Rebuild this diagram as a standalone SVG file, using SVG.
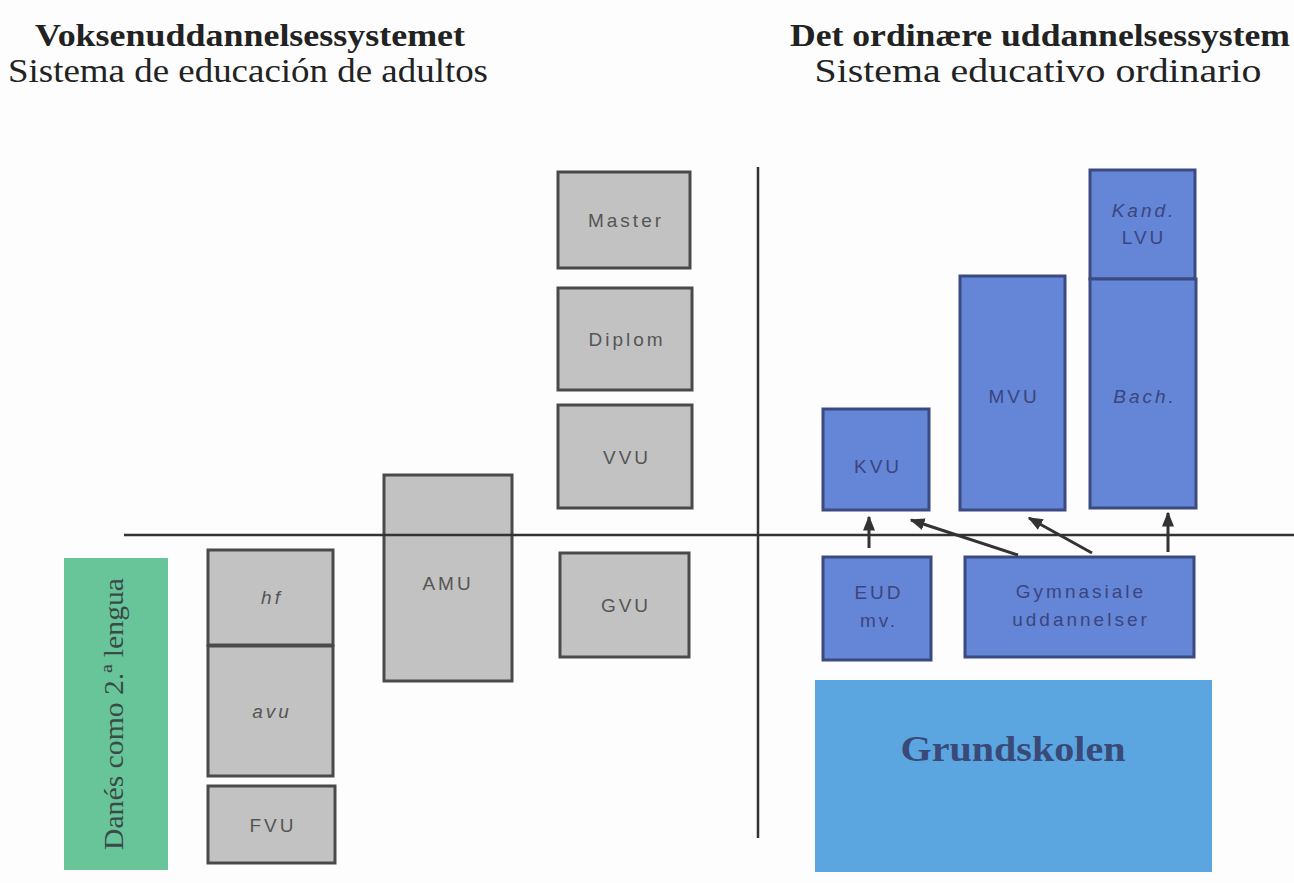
<svg xmlns="http://www.w3.org/2000/svg" width="1294" height="883" viewBox="0 0 1294 883">
<style>
.title{font-family:"Liberation Serif",serif;font-size:32px;font-weight:bold;fill:#222;text-anchor:middle}
.sub{font-family:"Liberation Serif",serif;font-size:34px;fill:#222;text-anchor:middle}
.g rect{fill:#c2c2c2;stroke:#4a4a4a;stroke-width:3}
.b rect{fill:#6585d6;stroke:#3b4a80;stroke-width:3}
.gt{font-family:"Liberation Sans",sans-serif;font-size:19px;letter-spacing:3px;fill:#555;text-anchor:middle}
.bt{font-family:"Liberation Sans",sans-serif;font-size:19px;letter-spacing:3px;fill:#3a4680;text-anchor:middle}
.it{font-style:italic}
.ln{stroke:#333;stroke-width:2.5;fill:none}
.ar{stroke:#333;stroke-width:3;fill:none;marker-end:url(#ah)}
</style>
<defs>
<marker id="ah" viewBox="0 0 10 10" refX="9" refY="5" markerWidth="5" markerHeight="5" orient="auto" markerUnits="strokeWidth">
<path d="M0,1 L10,5 L0,9 z" fill="#333"/>
</marker>
</defs>
<rect width="1294" height="883" fill="#fdfdfd"/>
<text class="title" x="250" y="46" textLength="430" lengthAdjust="spacingAndGlyphs">Voksenuddannelsessystemet</text>
<text class="sub" x="248" y="82" textLength="480" lengthAdjust="spacingAndGlyphs">Sistema de educación de adultos</text>
<text class="title" x="1040" y="46" textLength="500" lengthAdjust="spacingAndGlyphs">Det ordinære uddannelsessystem</text>
<text class="sub" x="1038" y="82" textLength="447" lengthAdjust="spacingAndGlyphs">Sistema educativo ordinario</text>

<g id="green">
<rect x="64" y="558" width="104" height="312" fill="#68c59a"/>
<text transform="translate(123,714) rotate(-90)" font-family="Liberation Serif,serif" font-size="28" fill="#3a4a48" text-anchor="middle" textLength="272" lengthAdjust="spacingAndGlyphs">Danés como 2.ª lengua</text>
</g>
<g id="hf" class="g"><rect x="208" y="550" width="125" height="95"/><text class="gt it" x="272" y="604">hf</text></g>
<g id="avu" class="g"><rect x="208" y="646" width="125" height="130"/><text class="gt it" x="272" y="718">avu</text></g>
<g id="fvu" class="g"><rect x="208" y="786" width="127" height="77"/><text class="gt" x="273" y="832">FVU</text></g>
<g id="amu" class="g"><rect x="384" y="475" width="128" height="206"/><text class="gt" x="448" y="590">AMU</text></g>
<g id="master" class="g"><rect x="558" y="172" width="132" height="96"/><text class="gt" x="626" y="227">Master</text></g>
<g id="diplom" class="g"><rect x="558" y="288" width="134" height="102"/><text class="gt" x="627" y="346">Diplom</text></g>
<g id="vvu" class="g"><rect x="558" y="405" width="134" height="103"/><text class="gt" x="627" y="464">VVU</text></g>
<g id="gvu" class="g"><rect x="560" y="553" width="129" height="104"/><text class="gt" x="626" y="612">GVU</text></g>

<g id="kand" class="b"><rect x="1090" y="170" width="105" height="109"/><text class="bt it" x="1144" y="217">Kand.</text><text class="bt" x="1144" y="244">LVU</text></g>
<g id="bach" class="b"><rect x="1090" y="279" width="106" height="229"/><text class="bt it" x="1145" y="403">Bach.</text></g>
<g id="mvu" class="b"><rect x="960" y="276" width="105" height="234"/><text class="bt" x="1014" y="403">MVU</text></g>
<g id="kvu" class="b"><rect x="823" y="409" width="106" height="101"/><text class="bt" x="878" y="473">KVU</text></g>
<g id="eud" class="b"><rect x="823" y="557" width="108" height="103"/><text class="bt" x="879" y="599">EUD</text><text class="bt" x="879" y="627">mv.</text></g>
<g id="gym" class="b"><rect x="965" y="557" width="229" height="100"/><text class="bt" x="1081" y="598">Gymnasiale</text><text class="bt" x="1081" y="626">uddannelser</text></g>
<g id="grund">
<rect x="815" y="680" width="397" height="192" fill="#5ba6e0"/>
<text x="1013" y="761" font-family="Liberation Serif,serif" font-size="36" font-weight="bold" fill="#3a4a78" text-anchor="middle" textLength="225" lengthAdjust="spacingAndGlyphs">Grundskolen</text>
</g>

<g id="connectors">
<line class="ln" x1="124" y1="535" x2="1294" y2="535"/>
<line class="ln" x1="758" y1="167" x2="758" y2="838"/>
<line class="ar" x1="869" y1="548" x2="869" y2="517"/>
<line class="ar" x1="1168" y1="552" x2="1168" y2="513"/>
<line class="ar" x1="1018" y1="555" x2="911" y2="520"/>
<line class="ar" x1="1092" y1="553" x2="1029" y2="518"/>
</g>
</svg>
